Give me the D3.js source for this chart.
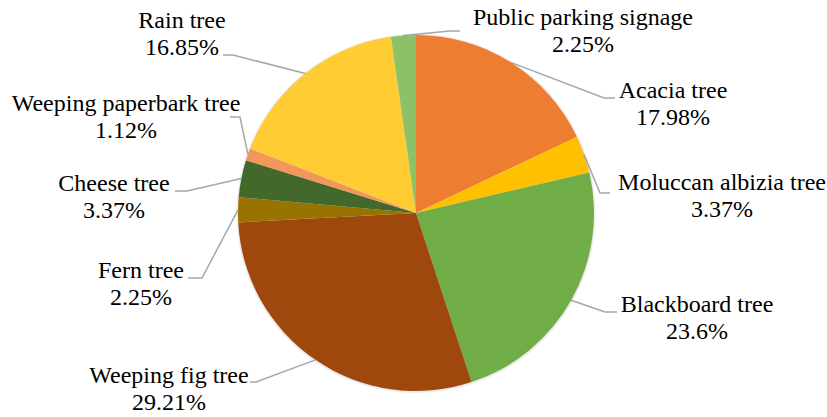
<!DOCTYPE html>
<html>
<head>
<meta charset="utf-8">
<script src="https://cdn.jsdelivr.net/npm/d3@7"></script>
<style>
  html, body { margin: 0; padding: 0; background: #fff; }
</style>
</head>
<body>
<div id="chart"></div>
<script>
// ------------------------------------------------------------
// Data
// ------------------------------------------------------------
const categories = [
  "Acacia tree", "Moluccan albizia tree", "Blackboard tree", "Weeping fig tree",
  "Fern tree", "Cheese tree", "Weeping paperbark tree", "Rain tree", "Public parking signage"
];
const shares = [17.98, 3.37, 23.6, 29.21, 2.25, 3.37, 1.12, 16.85, 2.25];
const shareLabels = ["17.98%", "3.37%", "23.6%", "29.21%", "2.25%", "3.37%", "1.12%", "16.85%", "2.25%"];

// Slice colours (Excel palette)
const sliceColors = [
  "#ED7D31", "#FFC000", "#70AD47", "#9E480E",
  "#997300", "#43682B", "#F1975A", "#FFCD33", "#8CC168"
];

// Label layout: text centre x, first baseline y, elbow point, tail end x
const labelLayout = [
  { x: 673, y: 98,  ex: 604, ey: 98,  tx: 615 },
  { x: 722, y: 190, ex: 600, ey: 193, tx: 610 },
  { x: 697, y: 312, ex: 605, ey: 312, tx: 617 },
  { x: 169, y: 383, ex: 256, ey: 382, tx: 250 },
  { x: 141, y: 278, ex: 202, ey: 278, tx: 188 },
  { x: 114, y: 191, ex: 187, ey: 191, tx: 175 },
  { x: 126, y: 111, ex: 240, ey: 117, tx: 230 },
  { x: 182, y: 28,  ex: 233, ey: 55,  tx: 223 },
  { x: 583, y: 25,  ex: 450, ey: 31,  tx: 460 }
];

// ------------------------------------------------------------
// Chart
// ------------------------------------------------------------
const width = 827, height = 417;
const cx = 416, cy = 213, radius = 178;
const lineGap = 27;

const svg = d3.select("#chart").append("svg")
  .attr("width", width)
  .attr("height", height)
  .style("display", "block");

const pie = d3.pie().sort(null).value(d => d);
const arcs = pie(shares);

const arc = d3.arc().innerRadius(0).outerRadius(radius);

const g = svg.append("g").attr("transform", `translate(${cx},${cy})`);

// faint halo under the pie, standing in for Excel's soft shadow
g.append("circle")
  .attr("r", radius + 1.5)
  .attr("cy", 0.5)
  .attr("fill", "#000")
  .attr("opacity", 0.08);

g.selectAll("path")
  .data(arcs)
  .join("path")
  .attr("d", arc)
  .attr("fill", (d, i) => sliceColors[i]);

// Leader lines: from the middle of each slice's outer edge to the label
const edgePoint = d => {
  const a = (d.startAngle + d.endAngle) / 2;
  return [cx + radius * Math.sin(a), cy - radius * Math.cos(a)];
};

svg.append("g")
  .selectAll("polyline")
  .data(arcs)
  .join("polyline")
  .attr("points", (d, i) => {
    const p = edgePoint(d);
    const L = labelLayout[i];
    return [p, [L.ex, L.ey], [L.tx, L.ey]].map(q => q.join(",")).join(" ");
  })
  .attr("fill", "none")
  .attr("stroke", "#A6A6A6")
  .attr("stroke-width", 1.5);

// Labels
const labels = svg.append("g")
  .selectAll("text")
  .data(categories)
  .join("text")
  .attr("font-family", "Liberation Serif")
  .attr("font-size", 24)
  .attr("fill", "#000")
  .attr("text-anchor", "middle")
  .attr("x", (d, i) => labelLayout[i].x)
  .attr("y", (d, i) => labelLayout[i].y);

labels.append("tspan")
  .attr("x", (d, i) => labelLayout[i].x)
  .text(d => d);

labels.append("tspan")
  .attr("x", (d, i) => labelLayout[i].x)
  .attr("dy", lineGap)
  .text((d, i) => shareLabels[i]);
</script>
</body>
</html>
